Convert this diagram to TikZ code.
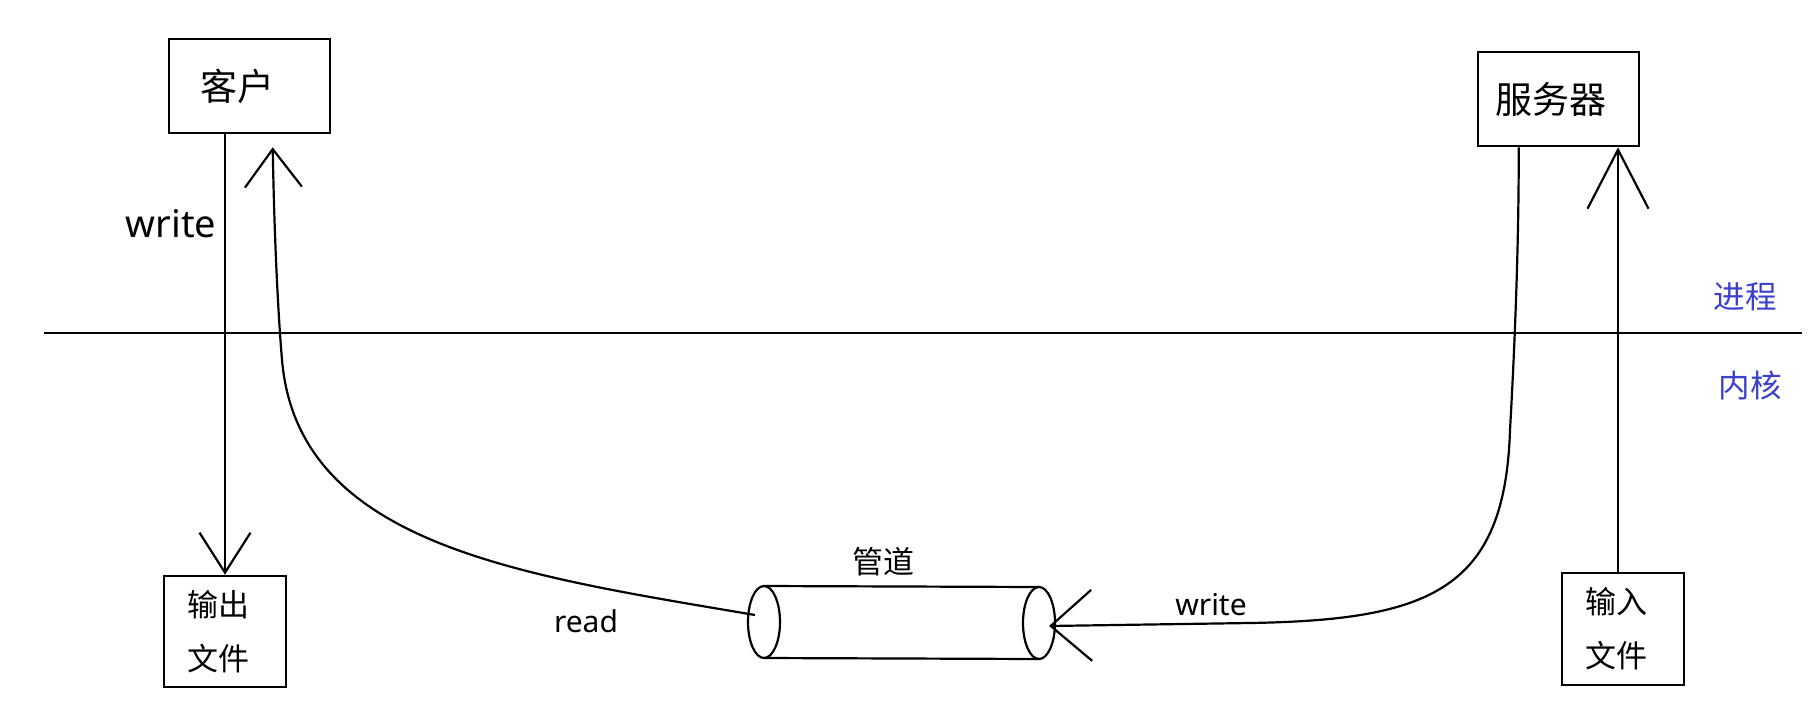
\documentclass[tikz,border=0pt]{standalone}
\usepackage{fontspec}
\setmainfont{Noto Sans}
\newfontfamily\cjk{Noto Sans CJK SC}
\usetikzlibrary{arrows.meta}
\definecolor{layerblue}{RGB}{58,64,204}
\begin{document}
\begin{tikzpicture}[x=1pt,y=-1pt,
  box/.style={draw, line width=2.6pt, align=left, inner ysep=0pt},
  conn/.style={line width=2.2pt},
  bigtxt/.style={font=\cjk\fontsize{37}{40}\selectfont},
  midtxt/.style={font=\cjk\fontsize{31}{54}\selectfont},
  lattxt/.style={inner sep=0pt},
  layer/.style={font=\cjk\fontsize{31.5}{34}\selectfont, text=layerblue, inner sep=0pt}]
\useasboundingbox (0,0) rectangle (1816,710);

% boxes
\node[box, bigtxt, minimum height=94pt, text width=99pt, inner xsep=31pt] (client) at (249.5,86) {客户};
\node[box, bigtxt, minimum height=94pt, text width=127pt, inner xsep=17pt] (server) at (1558.5,99) {服务器};
\node[box, midtxt, minimum height=111pt, text width=76pt, inner xsep=23pt] (outf) at (225,631.5) {输出\\文件};
\node[box, midtxt, minimum height=112pt, text width=76pt, inner xsep=23pt] (inf) at (1623,629) {输入\\文件};

% process/kernel boundary
\coordinate (bl) at (44,333);
\coordinate (br) at (1802,333);
\draw[conn] (bl) -- (br);
\node[layer] (proc) at (1745,297) {进程};
\node[layer] (kern) at (1750,385) {内核};

% pipe
\coordinate (pipeL) at (764,622);
\coordinate (pipeR) at (1039,623);
\draw[conn] (pipeL) ellipse [x radius=16pt, y radius=36pt];
\draw[conn] (pipeR) ellipse [x radius=16pt, y radius=36pt];
\draw[conn] ([yshift=36pt]pipeL) -- ([yshift=36pt]pipeR);
\draw[conn] ([yshift=-36pt]pipeL) -- ([yshift=-36pt]pipeR);
\node[midtxt] (pipelbl) at (883,562) {管道};

% client writes to output file
\draw[conn, -{Straight Barb[length=40pt,width=51pt,line width=2.2pt]}] (client.south -| outf.north) -- (outf.north);
\node[lattxt, font=\fontsize{38}{42}\selectfont] (w1) at (171,224) {write};

% client reads from pipe
\coordinate (rdstart) at ([xshift=-9pt,yshift=7pt]pipeL);
\coordinate (rdend) at ([xshift=105pt,yshift=-13pt]client.south west);
\draw[conn, -{Straight Barb[length=38pt,width=57pt,line width=2.2pt]}] (rdstart)
  .. controls (520,575) and (298,545) .. (282,360)
  .. controls (277,300) and (274,220) .. (rdend);
\node[lattxt, font=\fontsize{30}{34}\selectfont] (rd) at (586,621) {read};

% server writes to pipe
\coordinate (wrstart) at ([xshift=42pt]server.south west);
\coordinate (wrend) at ([xshift=10pt,yshift=-3pt]pipeR);
\draw[conn, -{Straight Barb[length=41pt,width=71pt,line width=2.2pt]}] (wrstart)
  .. controls (1519,250) and (1514,360) .. (1510,430)
  .. controls (1505,590) and (1430,620) .. (1250,623)
  -- (wrend);
\node[lattxt, font=\fontsize{30}{34}\selectfont] (w2) at (1211,605) {write};

% input file to server
\draw[conn, -{Straight Barb[length=59pt,width=61pt,line width=2.2pt]}] ([xshift=-5pt]inf.north) -- ([xshift=-5pt]inf.north |- server.south);
\end{tikzpicture}
\end{document}
